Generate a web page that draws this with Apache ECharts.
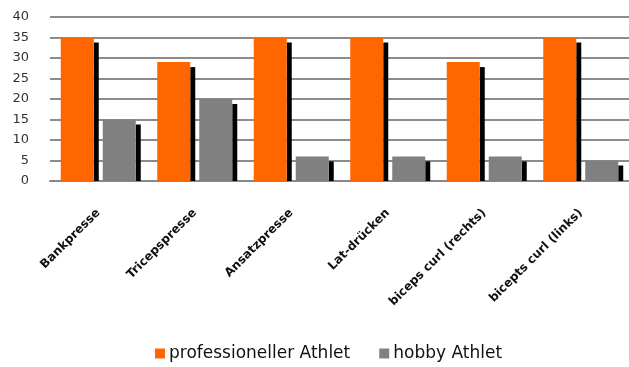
<!DOCTYPE html>
<html>
<head>
<meta charset="utf-8">
<script src="https://cdn.jsdelivr.net/npm/echarts@6/dist/echarts.min.js"></script>
<style>
  html, body { margin: 0; padding: 0; background: #fff; }
  #chart { width: 629px; height: 367px; }
</style>
</head>
<body>
<div id="chart"></div>
<script>
// Übungen und Werte
const uebungen = ['Bankpresse', 'Tricepspresse', 'Ansatzpresse', 'Lat-drücken', 'biceps curl (rechts)', 'bicepts curl (links)'];
const profi = [35, 29, 35, 35, 29, 35];
const hobby = [15, 20, 6, 6, 6, 5];
const yTicks = [0, 5, 10, 15, 20, 25, 30, 35, 40];

const BAR_W = 33;
const BAR_GAP = 9;
const SIDE_W = 5;
const SIDE_DROP = 5;

const chart = echarts.init(document.getElementById('chart'));

// dunkle Seitenfläche (3D-Effekt) rechts neben jedem Balken
function sideFace(slot) {
  return function (params, api) {
    const idx = api.value(0);
    const top = api.coord([idx, api.value(1)]);
    const base = api.coord([idx, 0]);
    const rightEdge = slot === 0 ? top[0] - BAR_GAP / 2 : top[0] + BAR_GAP / 2 + BAR_W;
    return {
      type: 'rect',
      shape: { x: rightEdge, y: top[1] + SIDE_DROP, width: SIDE_W, height: base[1] - top[1] - SIDE_DROP },
      style: { fill: '#000' }
    };
  };
}

const option = {
  animation: false,
  grid: { left: 50, top: 17, width: 588, bottom: 186 },
  legend: {
    data: ['professioneller Athlet', 'hobby Athlet'],
    bottom: 0,
    left: 150,
    icon: 'rect',
    itemWidth: 10,
    itemHeight: 10,
    itemGap: 29,
    textStyle: { fontFamily: 'DejaVu Sans', fontSize: 17, color: '#111', padding: [0, 0, 0, -1] }
  },
  xAxis: {
    type: 'category',
    data: uebungen,
    axisLine: { lineStyle: { color: '#888', width: 2 } },
    axisTick: { show: false },
    axisLabel: {
      rotate: 45,
      margin: 30,
      interval: 0,
      fontFamily: 'DejaVu Sans',
      fontSize: 12,
      fontWeight: 'bold',
      color: '#111'
    }
  },
  yAxis: {
    type: 'value',
    min: yTicks[0],
    max: yTicks[yTicks.length - 1],
    interval: 5,
    axisLine: { show: false },
    axisTick: { show: false },
    axisLabel: { margin: 21, fontFamily: 'DejaVu Sans', fontSize: 13, color: '#333' },
    splitLine: { lineStyle: { color: '#8c8c8c', width: 2 } }
  },
  series: [
    {
      name: 'professioneller Athlet',
      type: 'bar',
      data: profi,
      barWidth: BAR_W,
      barGap: (BAR_GAP / BAR_W * 100) + '%',
      itemStyle: { color: '#ff6600' },
      z: 3
    },
    {
      name: 'hobby Athlet',
      type: 'bar',
      data: hobby,
      barWidth: BAR_W,
      itemStyle: { color: '#808080' },
      z: 3
    },
    {
      type: 'custom',
      renderItem: sideFace(0),
      data: profi.map((v, i) => [i, v]),
      encode: { x: 0, y: 1 },
      z: 3,
      silent: true
    },
    {
      type: 'custom',
      renderItem: sideFace(1),
      data: hobby.map((v, i) => [i, v]),
      encode: { x: 0, y: 1 },
      z: 3,
      silent: true
    }
  ]
};

chart.setOption(option);
</script>
</body>
</html>
